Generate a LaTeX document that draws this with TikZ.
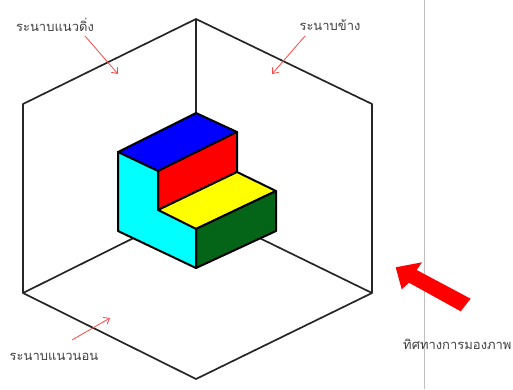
\documentclass[tikz,border=0pt]{standalone}
\usepackage{fontspec}
\newfontfamily\thaifont[Script=Thai]{Loma}
\usetikzlibrary{calc,positioning,arrows.meta}
\tikzset{
    framesty/.style={draw=black!85,line width=1.7pt,line join=round},
    facesty/.style={draw=black,line width=2pt,line join=round},
    notesty/.style={notered,line width=0.8pt,-{Straight Barb[length=5pt,width=8pt]}},
    labelsty/.style={text=black!75,font=\thaifont\fontsize{13pt}{15pt}\selectfont,inner sep=0pt},
    viewsty/.style={fill=purered,draw=none},
    seamsty/.style={draw=black!25,line width=1pt},
}
\definecolor{notered}{RGB}{255,70,70}
\definecolor{pureblue}{RGB}{0,0,255}
\definecolor{purered}{RGB}{255,0,0}
\definecolor{pureyellow}{RGB}{255,255,0}
\definecolor{purecyan}{RGB}{0,255,255}
\definecolor{darkgreen}{RGB}{4,100,24}
\begin{document}
\begin{tikzpicture}[x=1pt,y=-1pt]
\useasboundingbox (0,0) rectangle (513,389);
% frame corners
\coordinate (T) at (196,19);
\coordinate (RT) at (372,104);
\coordinate (RB) at (372,293);
\coordinate (B) at (196,379);
\coordinate (LB) at (23,293);
\coordinate (LT) at (23,104);
\coordinate (O) at (196,207);
% block corners
\coordinate (A) at (196,113);
\coordinate (C) at (237,132);
\coordinate (D) at (118,152);
\coordinate (E) at (158,171);
\coordinate (F) at (158,210);
\coordinate (G) at (237,172);
\coordinate (H) at (276,191);
\coordinate (I) at (196,229);
\coordinate (J) at (276,231);
\coordinate (K) at (196,268);
\coordinate (L) at (118,231);

\draw[seamsty] (424,0) -- (424,389);
\draw[framesty] (T) -- (RT) -- (RB) -- (B) -- (LB) -- (LT) -- cycle;
\draw[framesty] (T) -- (O);
\draw[framesty] (LB) -- (O);
\draw[framesty] (RB) -- (O);

\filldraw[facesty,fill=pureblue] (A) -- (C) -- (E) -- (D) -- cycle;
\filldraw[facesty,fill=purered] (E) -- (C) -- (G) -- (F) -- cycle;
\filldraw[facesty,fill=pureyellow] (F) -- (G) -- (H) -- (I) -- cycle;
\filldraw[facesty,fill=darkgreen] (I) -- (H) -- (J) -- (K) -- cycle;
\filldraw[facesty,fill=purecyan] (D) -- (E) -- (F) -- (I) -- (K) -- (L) -- cycle;

\node[labelsty] (vertlbl) at (55,25) {ระนาบแนวดิ่ง};
\node[labelsty] (sidelbl) at (330,25) {ระนาบข้าง};
\node[labelsty] (horzlbl) at (54,357) {ระนาบแนวนอน};
\node[labelsty,anchor=west] (viewlbl) at (403,344) {ทิศทางการมองภาพ};

\coordinate (vertend) at (118,74);
\coordinate (sideend) at (272,74);
\coordinate (horzend) at (110,318);
\draw[notesty] (85,36) -- (vertend);
\draw[notesty] (305,36) -- (sideend);
\draw[notesty] (72,340) -- (horzend);

% big arrow
\fill[viewsty] (470.6,298.7) -- (416.7,270) -- (422,262.3) -- (395.7,267.3)
  -- (401.7,289.3) -- (409,282.7) -- (460.7,311.3) -- cycle;
\end{tikzpicture}
\end{document}
